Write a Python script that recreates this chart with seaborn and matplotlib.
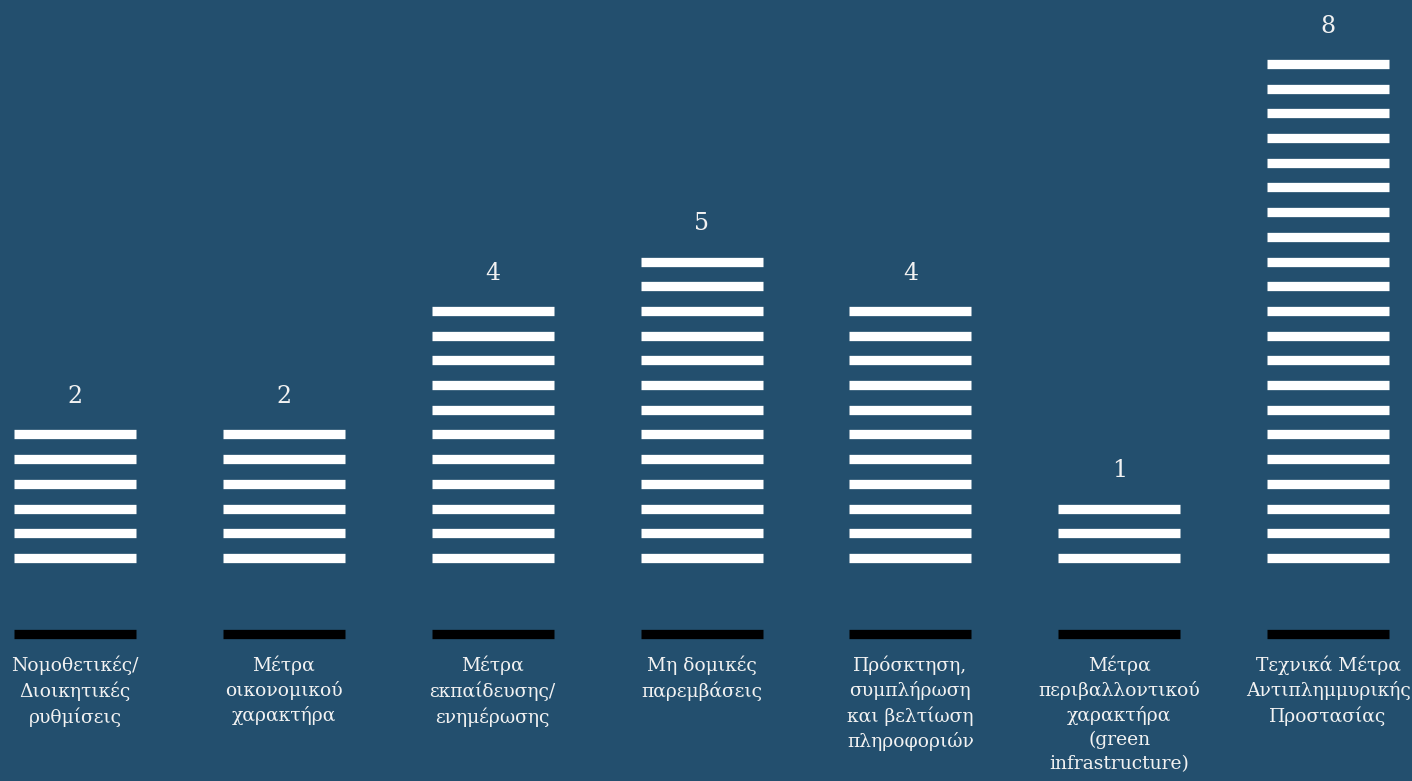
import matplotlib
matplotlib.use("Agg")
import matplotlib.pyplot as plt
import pandas as pd
import seaborn as sns

# --- data ---
categories = [
    "Νομοθετικές/\nΔιοικητικές\nρυθμίσεις",
    "Μέτρα\nοικονομικού\nχαρακτήρα",
    "Μέτρα\nεκπαίδευσης/\nενημέρωσης",
    "Μη δομικές\nπαρεμβάσεις",
    "Πρόσκτηση,\nσυμπλήρωση\nκαι βελτίωση\nπληροφοριών",
    "Μέτρα\nπεριβαλλοντικού\nχαρακτήρα\n(green\ninfrastructure)",
    "Τεχνικά Μέτρα\nΑντιπλημμυρικής\nΠροστασίας",
]
values = [2, 2, 4, 5, 4, 1, 8]
# number of stacked stripes drawn for each bar (pictorial repeat)
stripes = [6, 6, 11, 13, 11, 3, 21]

BG = "#234f6e"
TXT = "#f2f2f2"

rows = []
for i, n in enumerate(stripes):
    for k in range(n):
        rows.append({"pos": i, "level": k})
df = pd.DataFrame(rows)
df_base = pd.DataFrame({"pos": range(len(categories)), "level": -3.06})

sns.set_theme(style="white")
plt.rcParams["font.family"] = ["DejaVu Serif", "DejaVu Sans"]

fig = plt.figure(figsize=(14.12, 7.81), dpi=100, facecolor=BG)
ax = fig.add_axes([0, 0, 1, 1])
ax.set_facecolor(BG)

mark_len = 122 * 72 / 100  # points
mark_lw = 9.3 * 72 / 100
sns.scatterplot(data=df, x="pos", y="level", marker="_", s=mark_len ** 2,
                linewidth=mark_lw, color="white", ax=ax, legend=False)
sns.scatterplot(data=df_base, x="pos", y="level", marker="_", s=mark_len ** 2,
                linewidth=mark_lw, color="black", ax=ax, legend=False)
for coll in ax.collections:
    coll.set_capstyle("butt")

for i, (v, n) in enumerate(zip(values, stripes)):
    ax.text(i, n - 1 + 1.53, str(v), ha="center", va="center",
            color=TXT, fontsize=17)
    ax.text(i, -3.93, categories[i], ha="center", va="top",
            color=TXT, fontsize=13.5, linespacing=1.42)

ax.set_xlim(-0.359, 6.402)
ax.set_ylim(-9.03, 22.59)
ax.axis("off")

fig.savefig("out.png", dpi=100, facecolor=BG)
